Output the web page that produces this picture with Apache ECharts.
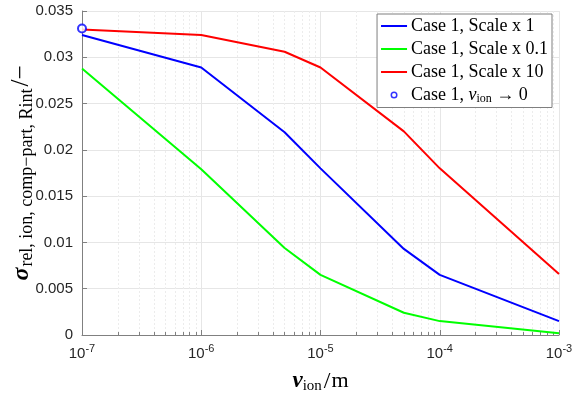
<!DOCTYPE html>
<html>
<head>
<meta charset="utf-8">
<script src="https://cdn.jsdelivr.net/npm/echarts@6/dist/echarts.min.js"></script>
<style>
  html, body { margin: 0; padding: 0; background: #fff; }
  #chart { width: 583px; height: 399px; }
</style>
</head>
<body>
<div id="chart"></div>
<script>
// ion viscosity sample points (m)
const nuIon = [1e-7, 1e-6, 5e-6, 1e-5, 5e-5, 1e-4, 1e-3];

// relative standard deviation for each scaling of case 1
const scale1   = [0.0324, 0.0289, 0.0219, 0.0180, 0.0093, 0.0065, 0.0015];
const scale01  = [0.0288, 0.0179, 0.0094, 0.0065, 0.0024, 0.0015, 0.0002];
const scale10  = [0.0330, 0.0324, 0.0306, 0.0289, 0.0220, 0.0180, 0.0066];

// limit case nu_ion -> 0
const limitX = [1e-7];
const limitY = [0.0331];

// decade ticks and the 2..9 sub-decade gridlines
const decades = [1e-7, 1e-6, 1e-5, 1e-4, 1e-3];
const minorTicks = [];
for (let d = 0; d < decades.length - 1; d++) {
  for (let k = 2; k <= 9; k++) minorTicks.push(+(k * decades[d]).toPrecision(3));
}

const seriesNames = [
  'Case 1, Scale x 1',
  'Case 1, Scale x 0.1',
  'Case 1, Scale x 10',
  'limit'
];

const pair = (xs, ys) => xs.map((x, i) => [x, ys[i]]);

const tickColor = '#262626';
const serif = '"Liberation Serif", "DejaVu Serif", serif';
const sans = '"Liberation Sans", Arial, sans-serif';

// legend glyphs: a 2px stroke and a small open ring, both in a 26x16 box
const lineIcon = 'path://M0,0 L0.01,0 Z M0,7 L26,7 L26,9 L0,9 Z M25.99,16 L26,16 Z';
const ringIcon = 'path://M0,0 L0.01,0 Z M9.5,8 A3.5,3.5 0 1,0 16.5,8 A3.5,3.5 0 1,0 9.5,8 Z ' +
                 'M11,8 A2,2 0 1,1 15,8 A2,2 0 1,1 11,8 Z M25.99,16 L26,16 Z';

const chart = echarts.init(document.getElementById('chart'), null, { renderer: 'canvas' });

chart.setOption({
  animation: false,
  backgroundColor: '#ffffff',
  grid: { left: 82, right: 24, top: 11, bottom: 64, containLabel: false, outerBoundsMode: 'none' },
  legend: {
    orient: 'vertical',
    right: 31,
    top: 14,
    backgroundColor: '#ffffff',
    borderColor: '#7f7f7f',
    borderWidth: 1,
    borderRadius: 0,
    padding: [3, 4, 3, 4],
    itemGap: 5,
    itemWidth: 26,
    itemHeight: 16,
    data: [
      { name: seriesNames[0], icon: lineIcon, itemStyle: { color: '#0000ff' } },
      { name: seriesNames[1], icon: lineIcon, itemStyle: { color: '#00ff00' } },
      { name: seriesNames[2], icon: lineIcon, itemStyle: { color: '#ff0000' } },
      { name: seriesNames[3], icon: ringIcon, itemStyle: { color: '#0000ff', borderWidth: 0 } }
    ],
    formatter: function (name) {
      if (name === 'limit') return '{t|Case 1, }{m|ν}{sub|ion}{t| → 0}';
      return '{t|' + name + '}';
    },
    textStyle: {
      fontFamily: serif,
      fontSize: 18,
      color: '#000',
      padding: [0, 0, 0, -1],
      rich: {
        t: { fontFamily: serif, fontSize: 18, color: '#000' },
        m: { fontFamily: serif, fontStyle: 'italic', fontSize: 18, color: '#000' },
        sub: { fontFamily: serif, fontSize: 12, color: '#000', padding: [7, 0, 0, 0] }
      }
    }
  },
  xAxis: [
    {
      type: 'log',
      logBase: 10,
      min: 1e-7,
      max: 1e-3,
      name: '{m|ν}{sub|ion}{t|/}{u|m}',
      nameLocation: 'middle',
      nameGap: 34,
      nameTextStyle: {
        rich: {
          m: { fontFamily: serif, fontStyle: 'italic', fontWeight: 'bold', fontSize: 23, color: '#000' },
          sub: { fontFamily: serif, fontSize: 15, color: '#000', padding: [10, 2, 0, 0] },
          t: { fontFamily: serif, fontSize: 24, color: '#000', padding: [0, 1, 0, 0] },
          u: { fontFamily: serif, fontSize: 22, color: '#000' }
        }
      },
      axisLine: { show: true, onZero: false, lineStyle: { color: '#808080', width: 1 } },
      axisTick: { show: true, inside: true, length: 5, lineStyle: { color: '#808080' } },
      splitLine: { show: true, lineStyle: { color: '#e6e6e6', width: 1 } },
      axisLabel: {
        margin: 8,
        formatter: function (v) {
          const e = Math.round(Math.log10(v));
          return '{b|10}{e|' + e + '}';
        },
        rich: {
          b: { fontFamily: sans, fontSize: 15, color: tickColor },
          e: { fontFamily: sans, fontSize: 11, color: tickColor, padding: [0, 0, 10, 0] }
        }
      }
    },
    {
      type: 'log',
      logBase: 10,
      min: 1e-7,
      max: 1e-3,
      position: 'bottom',
      axisLine: { show: false },
      axisLabel: { show: false },
      axisTick: { show: true, inside: true, length: 3, customValues: minorTicks, lineStyle: { color: '#808080' } },
      splitLine: { show: true, lineStyle: { color: '#ececec', width: 1, type: [2, 2] } }
    }
  ],
  yAxis: {
    type: 'value',
    min: 0,
    max: 0.035,
    interval: 0.005,
    name: '{s|σ}{sub|rel, ion, comp−part, Rint}{t|/−}',
    nameLocation: 'middle',
    nameGap: 46,
    nameMoveOverlap: false,
    nameTextStyle: {
      rich: {
        s: { fontFamily: serif, fontStyle: 'italic', fontWeight: 'bold', fontSize: 24, color: '#000' },
        sub: { fontFamily: serif, fontSize: 18, color: '#000', padding: [11, 2, 0, 1] },
        t: { fontFamily: serif, fontSize: 25, color: '#000' }
      }
    },
    axisLine: { show: true, lineStyle: { color: '#808080', width: 1 } },
    axisTick: { show: true, inside: true, length: 5, lineStyle: { color: '#808080' } },
    splitLine: { show: true, lineStyle: { color: '#e6e6e6', width: 1 } },
    axisLabel: {
      margin: 9,
      fontFamily: sans,
      fontSize: 15,
      color: tickColor
    }
  },
  series: [
    {
      name: seriesNames[0], type: 'line', xAxisIndex: 0,
      data: pair(nuIon, scale1), showSymbol: false, symbol: 'none',
      lineStyle: { color: '#0000ff', width: 2 }, itemStyle: { color: '#0000ff' }, z: 3
    },
    {
      name: seriesNames[1], type: 'line', xAxisIndex: 0,
      data: pair(nuIon, scale01), showSymbol: false, symbol: 'none',
      lineStyle: { color: '#00ff00', width: 2 }, itemStyle: { color: '#00ff00' }, z: 3
    },
    {
      name: seriesNames[2], type: 'line', xAxisIndex: 0,
      data: pair(nuIon, scale10), showSymbol: false, symbol: 'none',
      lineStyle: { color: '#ff0000', width: 2 }, itemStyle: { color: '#ff0000' }, z: 3
    },
    {
      name: seriesNames[3], type: 'scatter', xAxisIndex: 0,
      data: pair(limitX, limitY), symbol: 'circle', symbolSize: 8,
      itemStyle: { color: '#ffffff', borderColor: '#0000ff', borderWidth: 2 }, z: 5
    }
  ]
});
</script>
</body>
</html>
